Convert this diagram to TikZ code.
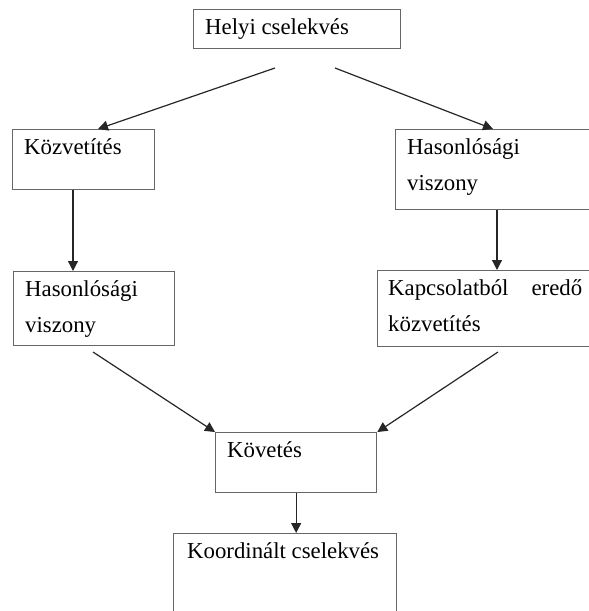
\documentclass[tikz,border=0pt]{standalone}
\usepackage{fontspec}
\setmainfont{Liberation Serif}
\usetikzlibrary{arrows.meta,calc}

\begin{document}
\begin{tikzpicture}[x=1pt, y=1pt, >={Triangle[length=10pt, width=10pt]},
          box/.style={draw=black!60, line width=1.3pt, anchor=north west, inner sep=0pt},
          txt/.style={anchor=north west, inner sep=0pt, align=left, font=\fontsize{22.8}{36}\selectfont},
          conn/.style={->, line width=1.2pt, black!85}]
        \useasboundingbox (0,0) rectangle (589,-611);
        \clip (0,0) rectangle (589,-611);
        % boxes
        \node[box, minimum width=207pt, minimum height=39pt] (helyi) at (193,-9) {};
        \node[box, minimum width=142pt, minimum height=60pt] (kozv) at (12,-129) {};
        \node[box, minimum width=161pt, minimum height=74pt] (lhas) at (13,-271) {};
        \node[box, minimum width=210pt, minimum height=80pt] (rhas) at (395,-129) {};
        \node[box, minimum width=230pt, minimum height=76pt] (kapcs) at (377,-270) {};
        \node[box, minimum width=161pt, minimum height=60pt] (kovet) at (215,-432) {};
        \node[box, minimum width=223pt, minimum height=90pt] (koord) at (173,-533) {};
        % texts
        \node[txt] (t-helyi) at ($(helyi.north west)+(12,0)$) {\strut Helyi cselekvés};
        \node[txt] (t-kozv) at ($(kozv.north west)+(12,0)$) {\strut Közvetítés};
        \node[txt] (t-lhas) at ($(lhas.north west)+(12,0)$) {\strut Hasonlósági\\ viszony};
        \node[txt] (t-rhas) at ($(rhas.north west)+(12,0)$) {\strut Hasonlósági\\ viszony};
        \node[txt, text width=194pt] (t-kapcs) at ($(kapcs.north west)+(11,0)$) {\strut Kapcsolatból\hfill eredő\\ közvetítés};
        \node[txt] (t-kovet) at ($(kovet.north west)+(12,0)$) {\strut Követés};
        \node[txt] (t-koord) at ($(koord.north west)+(14,0)$) {\strut Koordinált cselekvés};
        % connectors
        \coordinate (s1) at (275,-68);
        \coordinate (s2) at (335,-68);
        \coordinate (s3) at (93,-352);
        \coordinate (s4) at (498,-352);
        \draw[conn] (s1) -- ($(kozv.north west)+(86,0)$);
        \draw[conn] (s2) -- ($(rhas.north west)+(98,0)$);
        \draw[conn] ($(kozv.south west)+(61,0)$) -- ($(lhas.north west)+(60,0)$);
        \draw[conn] ($(rhas.south west)+(102,0)$) -- ($(kapcs.north west)+(120,0)$);
        \draw[conn] (s3) -- (kovet.north west);
        \draw[conn] (s4) -- (kovet.north east);
        \draw[conn] (kovet.south) -- (kovet.south |- koord.north);
      \end{tikzpicture}
\end{document}
